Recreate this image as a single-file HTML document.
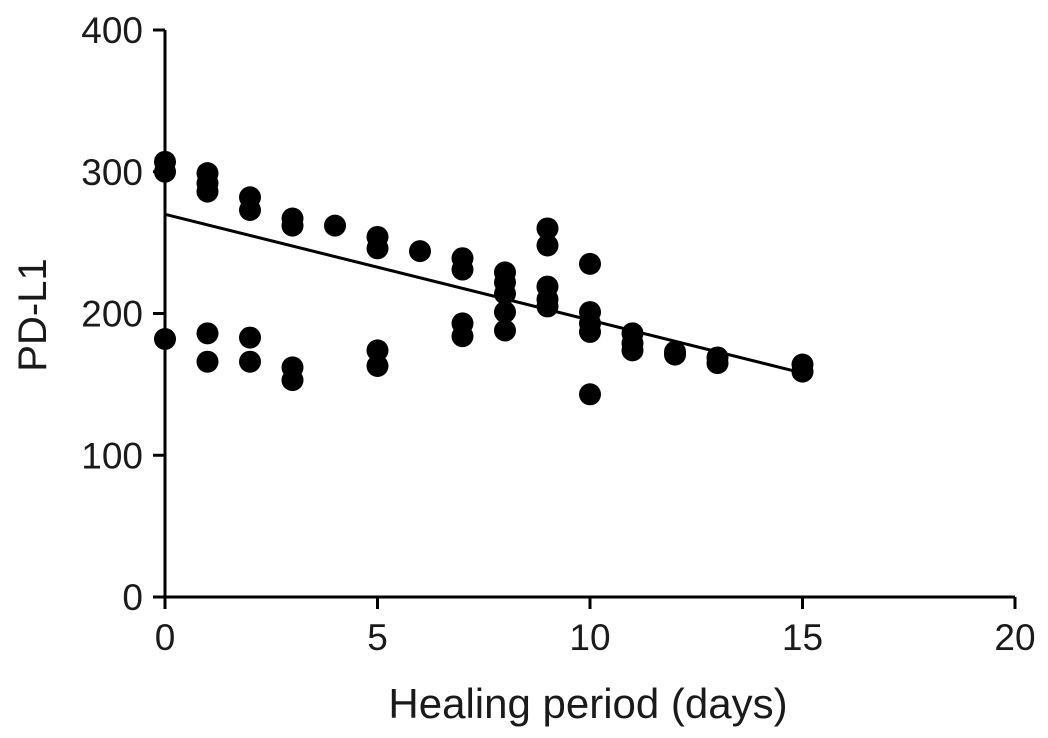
<!DOCTYPE html>
<html><head><meta charset="utf-8"><style>
html,body{margin:0;padding:0;background:#fff;}
svg{display:block;font-family:"Liberation Sans",sans-serif;}
</style></head><body>
<svg id="chart" width="1048" height="738"></svg>
<script>
const dayValues = [0,0,0,1,1,1,1,1,2,2,2,2,3,3,3,3,4,5,5,5,5,6,7,7,7,7,8,8,8,8,8,9,9,9,9,9,10,10,10,10,10,11,11,11,12,12,13,13,15,15];
const pdl1Values = [307,300,182,299,292,286,186,166,282,273,183,166,267,262,162,153,262,254,246,174,163,244,239,231,193,184,229,222,214,201,188,260,248,219,210,205,235,201,193,187,143,186,179,174,173,171,169,165,164,159];
const xTicks = [0,5,10,15,20];
const yTicks = [0,100,200,300,400];
const fitLine = [[0,270],[15,158]];
const NS="http://www.w3.org/2000/svg";
const svg=document.getElementById('chart');
const X0=165,X1=1015,Y0=597,Y1=30;
const sx=v=>X0+(v-0)/(20-0)*(X1-X0);
const sy=v=>Y0-(v-0)/(400-0)*(Y0-Y1);
function el(t,a){const e=document.createElementNS(NS,t);for(const k in a)e.setAttribute(k,a[k]);svg.appendChild(e);return e;}
let e;
e=el('line',{x1:X0,y1:Y1,x2:X0,y2:Y0,stroke:'#000','stroke-width':3});


e=el('line',{x1:X0,y1:Y0,x2:X1,y2:Y0,stroke:'#000','stroke-width':3});


yTicks.forEach(t=>{
  e=el('line',{x1:X0-12,y1:sy(t),x2:X0,y2:sy(t),stroke:'#000','stroke-width':3});
  
  
  e=el('text',{x:X0-22,y:sy(t)+13,'text-anchor':'end','font-size':37,fill:'#1a1a1a'});
  e.textContent=t;
  
  
});
xTicks.forEach(t=>{
  e=el('line',{x1:sx(t),y1:Y0,x2:sx(t),y2:Y0+12,stroke:'#000','stroke-width':3});
  
  
  e=el('text',{x:sx(t),y:Y0+53,'text-anchor':'middle','font-size':37,fill:'#1a1a1a'});
  e.textContent=t;
  
  
});
e=el('text',{x:588,y:718,'text-anchor':'middle','font-size':42,fill:'#1a1a1a'});
e.textContent='Healing period (days)';


e=el('text',{x:0,y:0,'text-anchor':'middle','font-size':40,fill:'#1a1a1a',transform:'translate(46,315) rotate(-90)'});
e.textContent='PD-L1';


dayValues.forEach((d,i)=>{
  e=el('ellipse',{cx:sx(d),cy:sy(pdl1Values[i]),rx:11,ry:11,fill:'#000'});
  
  
});
e=el('line',{x1:sx(fitLine[0][0]),y1:sy(fitLine[0][1]),x2:sx(fitLine[1][0]),y2:sy(fitLine[1][1]),stroke:'#000','stroke-width':3});


</script>
</body></html>
